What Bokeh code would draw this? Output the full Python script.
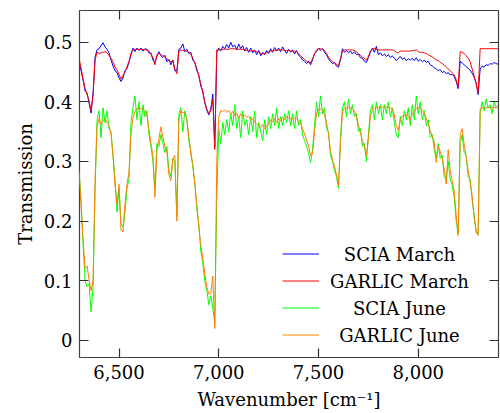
from bokeh.plotting import figure
from bokeh.models import (Range1d, LinearAxis, FixedTicker, Legend, LegendItem,
                          CustomJSTickFormatter, Label)
from bokeh.embed import file_html
from bokeh.resources import INLINE

# Wavenumber grid [cm^-1], 10 cm^-1 steps
wavenumber = list(range(6300, 8401, 10))

scia_march = [
    .468, .452, .436, .418, .415, .398, .381, .415, .475, .487,
    .489, .494, .499, .492, .488, .482, .470, .460, .452, .449,
    .440, .434, .440, .452, .456, .466, .478, .490, .484, .490,
    .486, .490, .485, .489, .488, .482, .482, .470, .466, .476,
    .484, .477, .474, .478, .467, .471, .462, .470, .452, .452,
    .488, .490, .497, .484, .488, .481, .483, .470, .466, .452,
    .445, .426, .418, .398, .386, .378, .388, .413, .325, .483,
    .490, .485, .493, .489, .496, .490, .500, .492, .495, .487,
    .497, .489, .494, .485, .491, .483, .490, .482, .487, .479,
    .486, .477, .483, .479, .486, .481, .489, .483, .491, .485,
    .490, .484, .492, .486, .481, .488, .483, .487, .480, .486,
    .478, .475, .470, .468, .464, .468, .462, .470, .481, .484,
    .490, .486, .489, .483, .479, .472, .468, .464, .466, .460,
    .458, .470, .489, .483, .486, .482, .485, .480, .484, .479,
    .480, .474, .473, .468, .466, .474, .483, .490, .483, .493,
    .479, .482, .477, .480, .476, .479, .474, .477, .473, .469,
    .473, .476, .471, .474, .469, .472, .470, .473, .469, .474,
    .468, .471, .467, .470, .466, .468, .462, .460, .457, .455,
    .452, .454, .449, .451, .447, .449, .445, .446, .442, .434,
    .422, .468, .465, .462, .459, .456, .453, .448, .441, .432,
    .412, .455, .460, .458, .462, .461, .464, .463, .466, .464, .463,
]

garlic_march = [
    .472, .456, .438, .422, .412, .402, .385, .410, .470, .483,
    .481, .482, .483, .484, .482, .478, .473, .467, .458, .453,
    .446, .438, .444, .450, .459, .468, .481, .487, .488, .488,
    .488, .488, .488, .487, .487, .485, .480, .474, .462, .479,
    .481, .479, .477, .475, .472, .469, .467, .469, .455, .447,
    .485, .487, .486, .486, .485, .483, .479, .473, .465, .456,
    .443, .430, .415, .400, .388, .380, .385, .405, .320, .487,
    .487, .487, .488, .488, .488, .488, .489, .489, .489, .488,
    .488, .488, .488, .487, .486, .485, .485, .486, .485, .484,
    .483, .481, .480, .481, .482, .484, .485, .485, .486, .487,
    .487, .487, .487, .486, .486, .486, .485, .485, .485, .484,
    .481, .477, .474, .471, .468, .466, .465, .472, .480, .487,
    .489, .489, .488, .486, .481, .475, .470, .467, .465, .463,
    .461, .472, .485, .487, .487, .487, .487, .487, .486, .484,
    .481, .478, .475, .473, .470, .476, .485, .489, .489, .488,
    .487, .487, .487, .487, .487, .487, .487, .487, .486, .483,
    .482, .485, .485, .485, .485, .485, .485, .486, .486, .487,
    .484, .483, .483, .482, .481, .479, .477, .475, .473, .470,
    .469, .466, .464, .461, .459, .455, .452, .449, .445, .437,
    .425, .484, .483, .481, .477, .473, .467, .455, .443, .430,
    .415, .489, .489, .489, .489, .489, .489, .489, .489, .489, .489,
]

scia_june = [
    .280, .235, .160, .100, .090, .095, .048, .090, .250, .370,
    .385, .340, .390, .365, .385, .355, .350, .310, .270, .215,
    .255, .195, .190, .215, .255, .270, .365, .390, .410, .370,
    .400, .360, .395, .375, .385, .345, .325, .300, .255, .330,
    .325, .345, .330, .315, .325, .285, .275, .305, .300, .210,
    .380, .390, .350, .385, .370, .335, .318, .290, .265, .220,
    .195, .150, .130, .100, .085, .060, .075, .055, .030, .240,
    .355, .330, .365, .345, .370, .350, .380, .360, .395, .355,
    .375, .340, .385, .360, .370, .345, .375, .350, .385, .340,
    .365, .350, .335, .370, .345, .375, .355, .380, .360, .390,
    .355, .375, .360, .380, .365, .385, .360, .380, .355, .385,
    .360, .370, .345, .335, .325, .315, .298, .320, .360, .400,
    .375, .410, .380, .390, .355, .350, .310, .300, .285, .275,
    .255, .340, .390, .400, .375, .405, .380, .395, .375, .380,
    .350, .355, .325, .330, .300, .345, .385, .395, .370, .400,
    .380, .395, .370, .395, .380, .400, .375, .390, .365, .345,
    .340, .375, .360, .385, .370, .390, .360, .395, .370, .410,
    .380, .400, .370, .385, .360, .370, .340, .345, .320, .305,
    .330, .305, .310, .275, .270, .300, .270, .260, .240, .200,
    .180, .330, .345, .315, .310, .275, .270, .235, .210, .180,
    .180, .380, .400, .385, .405, .390, .395, .380, .400, .390, .395,
]

garlic_june = [
    .285, .225, .170, .120, .125, .102, .083, .100, .270, .360,
    .372, .362, .368, .371, .366, .360, .345, .310, .260, .228,
    .262, .185, .182, .230, .262, .282, .345, .373, .383, .389,
    .390, .389, .388, .385, .378, .354, .330, .310, .240, .318,
    .338, .358, .340, .325, .316, .278, .268, .305, .310, .200,
    .370, .385, .382, .382, .372, .342, .312, .295, .262, .228,
    .190, .160, .138, .112, .090, .078, .078, .108, .020, .300,
    .375, .385, .384, .386, .383, .386, .379, .384, .376, .381,
    .372, .380, .374, .378, .374, .376, .370, .372, .366, .363,
    .360, .357, .362, .355, .360, .363, .370, .366, .372, .365,
    .372, .368, .374, .370, .376, .372, .372, .371, .373, .372,
    .368, .364, .355, .346, .336, .326, .310, .312, .350, .380,
    .387, .388, .386, .378, .365, .345, .318, .303, .292, .278,
    .260, .330, .383, .389, .390, .390, .390, .388, .385, .375,
    .362, .348, .335, .326, .310, .338, .375, .388, .390, .391,
    .391, .391, .391, .391, .391, .391, .390, .388, .378, .360,
    .352, .370, .376, .377, .379, .375, .370, .380, .383, .389,
    .390, .389, .386, .382, .372, .363, .352, .342, .333, .298,
    .326, .317, .305, .288, .262, .320, .285, .268, .250, .210,
    .176, .345, .355, .328, .308, .285, .265, .243, .205, .185,
    .176, .388, .390, .390, .390, .390, .390, .390, .390, .390, .390,
]

series_names = ["SCIA March", "GARLIC March", "SCIA June", "GARLIC June"]
series_colors = ["#0000ff", "#ff0000", "#00ff00", "#ff8000"]

x_ticks = [6500, 7000, 7500, 8000]
x_tick_labels = ["6,500", "7,000", "7,500", "8,000"]
y_ticks = [0, 0.1, 0.2, 0.3, 0.4, 0.5]
y_tick_labels = ["0", "0.1", "0.2", "0.3", "0.4", "0.5"]

for s in (scia_march, garlic_march, scia_june, garlic_june):
    assert len(s) == len(wavenumber)

FONT = "DejaVu Serif"
FONT_SIZE = "18px"

p = figure(width=500, height=413,
           x_range=Range1d(6302, 8402), y_range=Range1d(-0.0285, 0.553),
           output_backend="svg", toolbar_location=None,
           min_border_left=79, min_border_right=2,
           min_border_top=10, min_border_bottom=56)
p.grid.visible = False
p.outline_line_color = "#404040"
p.outline_line_width = 1.2
p.background_fill_color = "white"
p.border_fill_color = "white"

renderers = []
for ys, color in zip((scia_march, garlic_march, scia_june, garlic_june), series_colors):
    renderers.append(p.line(wavenumber, ys, line_color=color, line_width=1.0))


def style_axis(ax):
    ax.axis_line_color = None
    ax.major_tick_in = 9
    ax.major_tick_out = 0
    ax.minor_tick_line_color = None
    ax.major_tick_line_color = "#303030"
    ax.major_tick_line_width = 1.2
    ax.major_label_text_font = FONT
    ax.major_label_text_font_size = FONT_SIZE
    ax.major_label_text_color = "black"
    ax.axis_label_text_font = FONT
    ax.axis_label_text_font_size = FONT_SIZE
    ax.axis_label_text_font_style = "normal"
    ax.axis_label_text_color = "black"


xa = p.xaxis[0]
style_axis(xa)
xa.ticker = FixedTicker(ticks=x_ticks)
xa.major_label_overrides = dict(zip(x_ticks, x_tick_labels))
xa.major_label_standoff = 7
xa.axis_label = "Wavenumber [cm\u207b\u00b9]"
xa.axis_label_standoff = 7

ya = p.yaxis[0]
style_axis(ya)
ya.ticker = FixedTicker(ticks=y_ticks)
ya.major_label_overrides = dict(zip(y_ticks, y_tick_labels))
ya.major_label_standoff = 7
ya.axis_label = "Transmission"
ya.axis_label_standoff = 5

# mirrored tick marks on the top and right edges of the frame
blank = CustomJSTickFormatter(code="return ''")
top = LinearAxis(ticker=FixedTicker(ticks=x_ticks), formatter=blank)
right = LinearAxis(ticker=FixedTicker(ticks=y_ticks), formatter=blank)
for ax in (top, right):
    style_axis(ax)
    ax.major_label_text_font_size = "0px"
    ax.major_label_standoff = 0
p.add_layout(top, "above")
p.add_layout(right, "right")

# legend: line samples from the Legend, names centred in the label column
LEG_X, LEG_Y = 203, 9          # bottom-left of the legend box, frame pixels
ROW_H, GLYPH_W = 27, 37
LABEL_CX = 320                 # centre of the label column, frame pixels

legend = Legend(
    items=[LegendItem(label=" ", renderers=[r]) for r in renderers],
    location=(LEG_X, LEG_Y), orientation="vertical",
    border_line_color=None, background_fill_alpha=0,
    padding=0, margin=0, spacing=0,
    glyph_width=GLYPH_W, glyph_height=ROW_H, label_height=ROW_H, label_standoff=5,
    label_text_font_size=FONT_SIZE,
)
p.add_layout(legend)

n = len(series_names)
for i, name in enumerate(series_names):
    p.add_layout(Label(
        x=LABEL_CX, y=LEG_Y + (n - i - 0.5) * ROW_H, x_units="screen", y_units="screen",
        text=name, text_align="center", text_baseline="middle",
        text_font=FONT, text_font_size=FONT_SIZE, text_color="black",
    ))

open("out.html", "w").write(file_html(p, INLINE))
